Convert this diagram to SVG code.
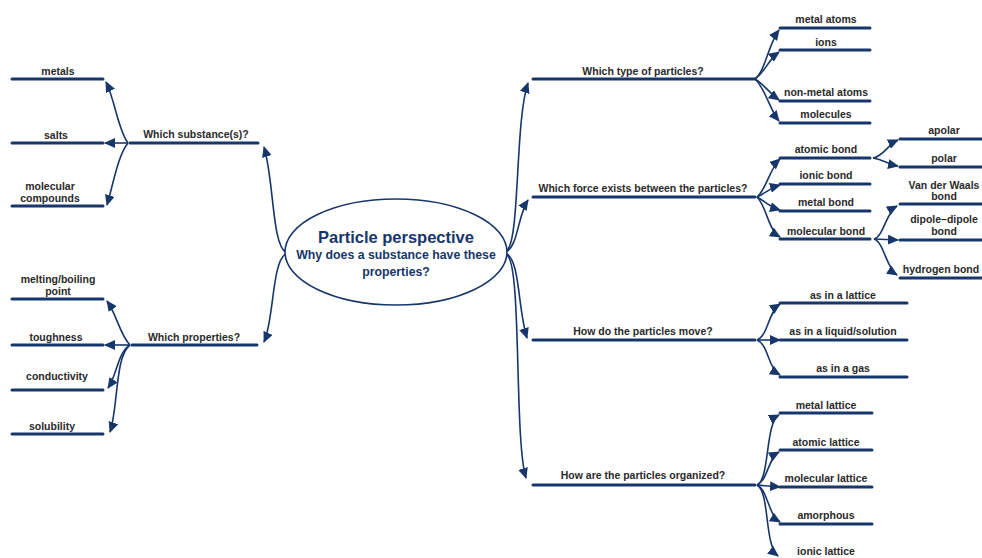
<svg xmlns="http://www.w3.org/2000/svg" width="982" height="558" viewBox="0 0 982 558">
<style>
.bg{fill:#fff}
.ul{stroke:#17366b;stroke-width:3;fill:none;stroke-linecap:round}
.cn{stroke:#17366b;stroke-width:1.6;fill:none;marker-end:url(#ah)}
.t{font-family:"Liberation Sans",Arial,sans-serif;font-weight:bold;font-size:10.5px;fill:#2a2a2a;text-anchor:middle}
.title{font-family:"Liberation Sans",Arial,sans-serif;font-weight:bold;fill:#17366b;text-anchor:middle}
</style>
<defs>
<marker id="ah" markerUnits="userSpaceOnUse" markerWidth="11" markerHeight="10" refX="10" refY="5" orient="auto">
<path d="M0,0 L11,5 L0,10 z" fill="#17366b"/>
</marker>
</defs>
<rect class="bg" width="982" height="558"/>
<g id="connectors">
<path class="cn" d="M286,252 C272,246 274,180 264,147"/>
<path class="cn" d="M286,254 C272,260 274,320 264,342"/>
<path class="cn" d="M128,143 C118,130 115,100 106,82"/>
<path class="cn" d="M128,143 L105,143"/>
<path class="cn" d="M128,143 C118,155 113,185 107,205"/>
<path class="cn" d="M130,345 C120,335 117,315 107,301"/>
<path class="cn" d="M130,345 L105,345"/>
<path class="cn" d="M130,345 C118,352 117,375 108,388"/>
<path class="cn" d="M130,345 C115,355 118,410 110,432"/>
<path class="cn" d="M507,250 C520,240 515,120 528,83"/>
<path class="cn" d="M507,251 C518,245 518,215 528,200"/>
<path class="cn" d="M507,254 C520,262 518,310 527,338"/>
<path class="cn" d="M507,255 C522,265 514,440 526,478"/>
<path class="cn" d="M755,79 C765,72 768,45 779,30"/>
<path class="cn" d="M755,79 C765,72 768,60 779,52"/>
<path class="cn" d="M755,79 C765,85 768,92 779,100"/>
<path class="cn" d="M755,79 C765,88 770,110 779,121"/>
<path class="cn" d="M757,197 C766,190 770,168 780,159"/>
<path class="cn" d="M757,197 C766,193 770,188 780,185"/>
<path class="cn" d="M757,197 C766,202 770,207 780,210"/>
<path class="cn" d="M757,197 C766,205 768,230 780,237"/>
<path class="cn" d="M873,158 C884,156 887,145 898,140"/>
<path class="cn" d="M873,158 C884,160 888,164 898,166"/>
<path class="cn" d="M874,239 C884,236 886,212 897,206"/>
<path class="cn" d="M874,239 L898,240"/>
<path class="cn" d="M874,239 C884,242 886,268 897,275"/>
<path class="cn" d="M757,340 C768,336 768,312 780,304"/>
<path class="cn" d="M757,340 L780,340"/>
<path class="cn" d="M757,340 C768,344 768,368 780,375"/>
<path class="cn" d="M757,485 C770,480 765,422 779,415"/>
<path class="cn" d="M757,485 C768,480 768,458 779,452"/>
<path class="cn" d="M757,485 L780,487"/>
<path class="cn" d="M757,485 C768,490 768,515 780,522"/>
<path class="cn" d="M757,485 C770,492 764,545 778,556"/>
</g>
<g id="center">
<ellipse cx="396" cy="252" rx="111" ry="53" fill="#fff" stroke="#17366b" stroke-width="1.6"/>
<text class="title" x="396" y="243" font-size="16.5">Particle perspective</text>
<text class="title" x="396" y="259" font-size="12.3">Why does a substance have these</text>
<text class="title" x="396" y="276" font-size="12.3">properties?</text>
</g>
<g id="which-substance"><path class="ul" d="M130,143 L258,143"/><text class="t" x="196" y="138">Which substance(s)?</text></g>
<g id="metals"><path class="ul" d="M12,79 L103,79"/><text class="t" x="58" y="75">metals</text></g>
<g id="salts"><path class="ul" d="M12,143 L103,143"/><text class="t" x="56" y="139">salts</text></g>
<g id="molecular-compounds"><path class="ul" d="M12,206 L103,206"/><text class="t" x="50" y="190">molecular</text><text class="t" x="50" y="202">compounds</text></g>
<g id="which-properties"><path class="ul" d="M132,345 L257,345"/><text class="t" x="194" y="341">Which properties?</text></g>
<g id="melting"><path class="ul" d="M12,299 L103,299"/><text class="t" x="58" y="283">melting/boiling</text><text class="t" x="58" y="295">point</text></g>
<g id="toughness"><path class="ul" d="M12,345 L103,345"/><text class="t" x="56" y="341">toughness</text></g>
<g id="conductivity"><path class="ul" d="M12,390 L103,390"/><text class="t" x="57" y="380">conductivity</text></g>
<g id="solubility"><path class="ul" d="M12,434 L103,434"/><text class="t" x="52" y="430">solubility</text></g>
<g id="which-type"><path class="ul" d="M533,79 L755,79"/><text class="t" x="643" y="75">Which type of particles?</text></g>
<g id="metal-atoms"><path class="ul" d="M780,28 L870,28"/><text class="t" x="826" y="23">metal atoms</text></g>
<g id="ions"><path class="ul" d="M780,50 L870,50"/><text class="t" x="826" y="46">ions</text></g>
<g id="non-metal-atoms"><path class="ul" d="M780,101 L870,101"/><text class="t" x="826" y="96">non-metal atoms</text></g>
<g id="molecules"><path class="ul" d="M780,123 L870,123"/><text class="t" x="826" y="118">molecules</text></g>
<g id="which-force"><path class="ul" d="M533,197 L755,197"/><text class="t" x="643" y="192">Which force exists between the particles?</text></g>
<g id="atomic-bond"><path class="ul" d="M780,158 L870,158"/><text class="t" x="826" y="153">atomic bond</text></g>
<g id="ionic-bond"><path class="ul" d="M780,184 L870,184"/><text class="t" x="826" y="179">ionic bond</text></g>
<g id="metal-bond"><path class="ul" d="M780,211 L870,211"/><text class="t" x="826" y="206">metal bond</text></g>
<g id="molecular-bond"><path class="ul" d="M780,239 L870,239"/><text class="t" x="826" y="235">molecular bond</text></g>
<g id="apolar"><path class="ul" d="M900,139 L982,139"/><text class="t" x="944" y="134">apolar</text></g>
<g id="polar"><path class="ul" d="M900,167 L982,167"/><text class="t" x="944" y="162">polar</text></g>
<g id="vdw"><path class="ul" d="M900,204 L982,204"/><text class="t" x="944" y="189">Van der Waals</text><text class="t" x="944" y="200">bond</text></g>
<g id="dipole"><path class="ul" d="M900,240 L982,240"/><text class="t" x="944" y="223">dipole–dipole</text><text class="t" x="944" y="235">bond</text></g>
<g id="hydrogen"><path class="ul" d="M900,278 L982,278"/><text class="t" x="941" y="273">hydrogen bond</text></g>
<g id="how-move"><path class="ul" d="M533,340 L755,340"/><text class="t" x="643" y="335">How do the particles move?</text></g>
<g id="lattice"><path class="ul" d="M780,303 L907,303"/><text class="t" x="843" y="299">as in a lattice</text></g>
<g id="liquid"><path class="ul" d="M780,340 L907,340"/><text class="t" x="843" y="335">as in a liquid/solution</text></g>
<g id="gas"><path class="ul" d="M780,377 L907,377"/><text class="t" x="843" y="372">as in a gas</text></g>
<g id="how-organized"><path class="ul" d="M533,485 L755,485"/><text class="t" x="643" y="479">How are the particles organized?</text></g>
<g id="metal-lattice"><path class="ul" d="M780,413 L872,413"/><text class="t" x="826" y="409">metal lattice</text></g>
<g id="atomic-lattice"><path class="ul" d="M780,450 L872,450"/><text class="t" x="826" y="446">atomic lattice</text></g>
<g id="molecular-lattice"><path class="ul" d="M780,487 L872,487"/><text class="t" x="826" y="482">molecular lattice</text></g>
<g id="amorphous"><path class="ul" d="M780,524 L872,524"/><text class="t" x="826" y="519">amorphous</text></g>
<g id="ionic-lattice"><text class="t" x="826" y="555">ionic lattice</text></g>
</svg>
